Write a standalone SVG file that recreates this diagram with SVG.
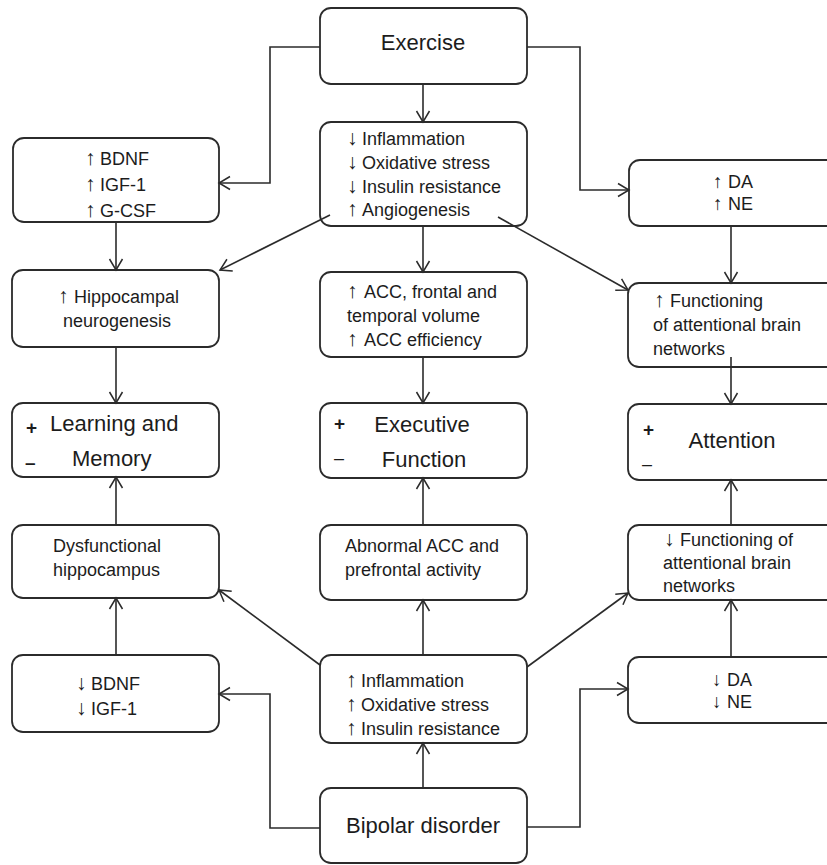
<svg xmlns="http://www.w3.org/2000/svg" width="827" height="865" viewBox="0 0 827 865">
<defs>
<style>
.box{fill:#fff;stroke:#2b2b2b;stroke-width:1.8}
.t{font-family:"Liberation Sans",Arial,sans-serif;font-size:18px;fill:#1c1c1c}
.ar{font-family:"Liberation Sans",Arial,sans-serif;font-size:21px;fill:#1c1c1c}
.ar2{font-family:"Liberation Sans",Arial,sans-serif;font-size:19px;fill:#1c1c1c}
.big{font-family:"Liberation Sans",Arial,sans-serif;font-size:22px;fill:#1c1c1c}
.c{text-anchor:middle}
.sg{font-family:"Liberation Sans",Arial,sans-serif;font-size:19px;fill:#1c1c1c;font-weight:bold}
.ln{fill:none;stroke:#2b2b2b;stroke-width:1.6;marker-end:url(#ah)}
</style>
<marker id="ah" markerUnits="userSpaceOnUse" markerWidth="14" markerHeight="16" refX="12" refY="7" orient="auto" viewBox="0 0 14 14">
<path d="M1,0.5 L12,7 L1,13.5" fill="none" stroke="#2b2b2b" stroke-width="1.5"/>
</marker>
</defs>
<rect width="827" height="865" fill="#fff"/>

<g id="exercise"><rect class="box" x="320" y="8" width="207" height="76" rx="11"/><text class="big c" x="423" y="50">Exercise</text></g>

<g id="inflam-down"><rect class="box" x="320" y="122" width="207" height="104" rx="11"/>
<text class="ar" x="347" y="145">↓</text><text class="t" x="362" y="145">Inflammation</text>
<text class="ar" x="347" y="169">↓</text><text class="t" x="362" y="169">Oxidative stress</text>
<text class="ar" x="347" y="193">↓</text><text class="t" x="362" y="193">Insulin resistance</text>
<text class="ar" x="347" y="216">↑</text><text class="t" x="362" y="216">Angiogenesis</text></g>

<g id="bdnf-up"><rect class="box" x="13" y="138" width="206" height="84" rx="11"/>
<text class="ar" x="85" y="165">↑</text><text class="t" x="100" y="165">BDNF</text>
<text class="ar" x="85" y="191">↑</text><text class="t" x="100" y="191">IGF-1</text>
<text class="ar" x="85" y="217">↑</text><text class="t" x="100" y="217">G-CSF</text></g>

<g id="da-up"><rect class="box" x="629" y="160" width="215" height="66" rx="11"/>
<text class="ar2" x="713" y="188">↑</text><text class="t" x="728" y="188">DA</text>
<text class="ar2" x="713" y="210">↑</text><text class="t" x="728" y="210">NE</text></g>

<g id="hippo-up"><rect class="box" x="12" y="270" width="207" height="77" rx="11"/>
<text class="ar" x="58" y="303">↑</text><text class="t" x="74" y="303">Hippocampal</text><text class="t" x="63" y="327">neurogenesis</text></g>

<g id="acc-up"><rect class="box" x="320" y="272" width="207" height="85" rx="11"/>
<text class="ar" x="347" y="298">↑</text><text class="t" x="364" y="298">ACC, frontal and</text>
<text class="t" x="347" y="322">temporal volume</text>
<text class="ar" x="347" y="346">↑</text><text class="t" x="364" y="346">ACC efficiency</text></g>

<g id="attn-net-up"><rect class="box" x="628" y="283" width="215" height="84" rx="11"/>
<text class="ar" x="654" y="307">↑</text><text class="t" x="670" y="307">Functioning</text><text class="t" x="653" y="331">of attentional brain</text><text class="t" x="653" y="355">networks</text></g>

<g id="learning"><rect class="box" x="12" y="403" width="207" height="74" rx="11"/>
<text class="sg" x="26" y="434">+</text><text class="big" x="50" y="431">Learning and</text>
<text class="sg" x="25" y="469">–</text><text class="big" x="72" y="466">Memory</text></g>

<g id="executive"><rect class="box" x="320" y="403" width="207" height="75" rx="11"/>
<text class="sg" x="334" y="430">+</text><text class="big c" x="422" y="432">Executive</text>
<text class="t" x="334" y="464">–</text><text class="big c" x="424" y="467">Function</text></g>

<g id="attention"><rect class="box" x="628" y="404" width="215" height="76" rx="11"/>
<text class="sg" x="643" y="436">+</text><text class="big c" x="732" y="448">Attention</text>
<text class="t" x="642" y="470">–</text></g>

<g id="dys-hippo"><rect class="box" x="12" y="525" width="207" height="73" rx="11"/>
<text class="t" x="53" y="552">Dysfunctional</text><text class="t" x="53" y="576">hippocampus</text></g>

<g id="abnormal-acc"><rect class="box" x="320" y="525" width="207" height="75" rx="11"/>
<text class="t" x="345" y="552">Abnormal ACC and</text><text class="t" x="345" y="576">prefrontal activity</text></g>

<g id="attn-net-down"><rect class="box" x="628" y="525" width="215" height="75" rx="11"/>
<text class="ar" x="664" y="546">↓</text><text class="t" x="680" y="546">Functioning of</text><text class="t" x="663" y="569">attentional brain</text><text class="t" x="663" y="592">networks</text></g>

<g id="bdnf-down"><rect class="box" x="12" y="655" width="207" height="77" rx="11"/>
<text class="ar" x="76" y="690">↓</text><text class="t" x="91" y="690">BDNF</text>
<text class="ar" x="76" y="715">↓</text><text class="t" x="91" y="715">IGF-1</text></g>

<g id="inflam-up"><rect class="box" x="320" y="655" width="207" height="88" rx="11"/>
<text class="ar" x="346" y="687">↑</text><text class="t" x="361" y="687">Inflammation</text>
<text class="ar" x="346" y="711">↑</text><text class="t" x="361" y="711">Oxidative stress</text>
<text class="ar" x="346" y="735">↑</text><text class="t" x="361" y="735">Insulin resistance</text></g>

<g id="da-down"><rect class="box" x="628" y="657" width="215" height="66" rx="11"/>
<text class="ar2" x="712" y="686">↓</text><text class="t" x="727" y="686">DA</text>
<text class="ar2" x="712" y="708">↓</text><text class="t" x="727" y="708">NE</text></g>

<g id="bipolar"><rect class="box" x="320" y="788" width="207" height="75" rx="11"/><text class="big c" x="423" y="833">Bipolar disorder</text></g>

<g id="connectors">
<path class="ln" d="M320,47 H270 V183 H219"/>
<path class="ln" d="M527,47 H580 V190 H629"/>
<path class="ln" d="M423,84 V122"/>
<path class="ln" d="M116,222 V270"/>
<path class="ln" d="M330,215 L220,270"/>
<path class="ln" d="M423,226 V272"/>
<path class="ln" d="M498,217 L628,290"/>
<path class="ln" d="M731,226 V283"/>
<path class="ln" d="M116,347 V403"/>
<path class="ln" d="M423,357 V403"/>
<path class="ln" d="M731,357 V404"/>
<path class="ln" d="M116,525 V477"/>
<path class="ln" d="M423,525 V478"/>
<path class="ln" d="M731,525 V480"/>
<path class="ln" d="M116,655 V598"/>
<path class="ln" d="M320,665 L219,590"/>
<path class="ln" d="M423,655 V600"/>
<path class="ln" d="M527,667 L628,593"/>
<path class="ln" d="M731,657 V600"/>
<path class="ln" d="M423,788 V743"/>
<path class="ln" d="M320,828 H270 V694 H219"/>
<path class="ln" d="M527,827 H580 V689 H628"/>
</g>
</svg>
